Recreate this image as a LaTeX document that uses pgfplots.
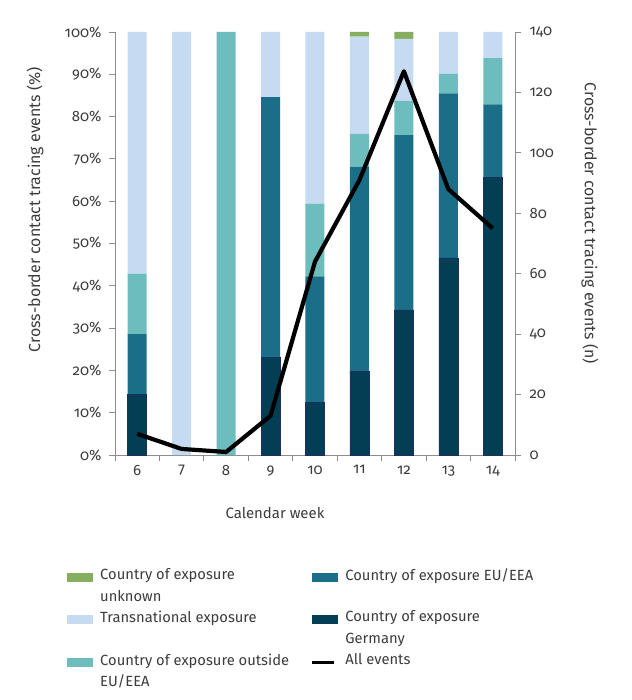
\documentclass[border=0pt]{standalone}
\usepackage{fontspec}
\setmainfont{Fira Sans}
\newfontfamily\tickfont[Numbers=OldStyle]{Fira Sans}
\usepackage{pgfplots}
\pgfplotsset{compat=1.18}
\definecolor{cGer}{HTML}{023F55}
\definecolor{cGerEdge}{HTML}{1E2E5E}
\definecolor{cEU}{HTML}{1A6E87}
\definecolor{cOut}{HTML}{6DBDBF}
\definecolor{cTrans}{HTML}{C6DBF1}
\definecolor{cUnk}{HTML}{85AF5E}
\definecolor{cAxis}{HTML}{8C8C8C}
\definecolor{cText}{HTML}{3C3C3C}
\pgfplotsset{
  swatch/.style={legend image code/.code={\fill[##1, draw=none] (0bp,-15.5bp) rectangle (26bp,-6.5bp);}},
  linesw/.style={legend image code/.code={\draw[##1] (0bp,-11bp) -- (22bp,-11bp);}},
  common/.style={
    at={(0,0)}, anchor=south west, scale only axis,
    width=400bp, height=423bp,
    xmin=5.5, xmax=14.5,
    axis line style={draw=cAxis, line width=0.9bp, -},
    every tick/.style={draw=cAxis, line width=0.9bp},
    tick align=outside, major tick length=6bp,
    ticklabel style={font=\tickfont\fontsize{15}{17}\selectfont, text=cText},
    label style={font=\fontsize{15}{18}\selectfont, text=cText},
    /pgf/number format/assume math mode=true,
  }
}
\begin{document}
\begin{tikzpicture}
\useasboundingbox (-115bp,-245bp) rectangle (517bp,455bp);
\begin{axis}[common,
  ymin=0, ymax=100,
  ybar stacked, bar width=19bp,
  axis x line*=bottom, axis y line*=left,
  xtick={5.5,6.5,...,14.5},
  x tick label as interval=true,
  xticklabels={6,7,8,9,10,11,12,13,14},
  ytick={0,10,...,100},
  yticklabel={\pgfmathprintnumber{\tick}\%},
  yticklabel style={xshift=-4bp},
  xticklabel style={yshift=-1bp},
  xlabel={Calendar week},
  ylabel={Cross-border contact tracing events (\%)},
  xlabel style={at={(axis description cs:0.4,-0.137)}, anchor=center},
  ylabel style={at={(axis description cs:-0.2,0.58)}, anchor=center, font=\fontsize{16}{19}\selectfont},
  legend columns=2,
  legend style={at={(axis description cs:-0.12,-0.262)}, anchor=north west,
    draw=none, fill=none, inner sep=0pt,
    font=\fontsize{14.8}{19}\selectfont, text=cText,
    cells={anchor=north west, align=left},
    /tikz/every odd column/.append style={column sep=5bp},
    /tikz/every even column/.append style={column sep=20bp},
    row sep=4bp},
]
\addplot+[forget plot, fill=cGer, draw=cGerEdge, line width=0.5bp] coordinates {(6,14.3) (7,0) (8,0) (9,23.1) (10,12.5) (11,19.8) (12,34.3) (13,46.6) (14,65.6)};
\addplot+[forget plot, fill=cEU, draw=none] coordinates {(6,14.3) (7,0) (8,0) (9,61.5) (10,29.7) (11,48.4) (12,41.3) (13,38.9) (14,17.3)};
\addplot+[forget plot, fill=cOut, draw=none] coordinates {(6,14.3) (7,0) (8,100) (9,0) (10,17.2) (11,7.7) (12,8.1) (13,4.6) (14,10.9)};
\addplot+[forget plot, fill=cTrans, draw=none] coordinates {(6,57.1) (7,100) (8,0) (9,15.4) (10,40.6) (11,23.0) (12,14.7) (13,9.9) (14,6.2)};
\addplot+[forget plot, fill=cUnk, draw=none] coordinates {(6,0) (7,0) (8,0) (9,0) (10,0) (11,1.1) (12,1.6) (13,0) (14,0)};
\addlegendimage{swatch, fill=cUnk}
\addlegendentry{Country of exposure\\[3bp]unknown}
\addlegendimage{swatch, fill=cEU}
\addlegendentry{Country of exposure EU/EEA}
\addlegendimage{swatch, fill=cTrans}
\addlegendentry{Transnational exposure}
\addlegendimage{swatch, fill=cGer}
\addlegendentry{Country of exposure\\[3bp]Germany}
\addlegendimage{swatch, fill=cOut}
\addlegendentry{Country of exposure outside\\[3bp]EU/EEA}
\addlegendimage{linesw, black, line width=2.5bp}
\addlegendentry{All events}
\end{axis}
\begin{axis}[common,
  ymin=0, ymax=140,
  axis x line=none, axis y line*=right,
  ytick={0,20,...,140},
  yticklabel style={xshift=5bp},
  ylabel={Cross-border contact tracing events (n)},
  ylabel style={rotate=180, at={(axis description cs:1.1875,0.548)}, anchor=center, font=\fontsize{16}{19}\selectfont},
]
\addplot[black, line width=4.2bp, line join=round, mark=none] coordinates {(6,7) (7,2) (8,1) (9,13) (10,64) (11,91) (12,127) (13,88) (14,75)};
\end{axis}
\end{tikzpicture}
\end{document}
